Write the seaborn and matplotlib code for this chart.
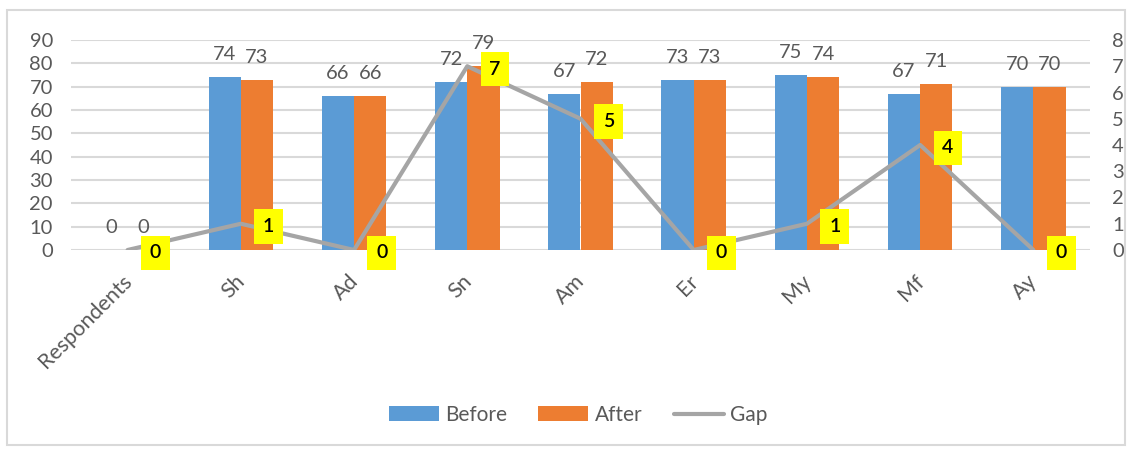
import numpy as np
import pandas as pd
import matplotlib
matplotlib.use("Agg")
import matplotlib.pyplot as plt
import matplotlib.transforms as mtransforms
from matplotlib.patches import Patch, Rectangle
from matplotlib.lines import Line2D
import seaborn as sns

# Scores per dimension before and after, plus the gap between them
categories = ["Respondents", "Sh", "Ad", "Sn", "Am", "Er", "My", "Mf", "Ay"]
before = [0, 74, 66, 72, 67, 73, 75, 67, 70]
after = [0, 73, 66, 79, 72, 73, 74, 71, 70]
gap = [0, 1, 0, 7, 5, 0, 1, 4, 0]
left_ticks = list(range(0, 91, 10))
right_ticks = list(range(0, 9, 1))

BLUE = "#5B9BD5"
ORANGE = "#ED7D31"
GRAY_LINE = "#A5A5A5"
GRID = "#D9D9D9"
TEXT = "#595959"

sns.set_theme(style="white")
plt.rcParams["font.family"] = ["Lato", "DejaVu Sans"]

bars = pd.DataFrame({
    "category": categories * 2,
    "series": ["Before"] * len(categories) + ["After"] * len(categories),
    "value": before + after,
})
line = pd.DataFrame({"pos": np.arange(len(categories)), "gap": gap})

fig = plt.figure(figsize=(11.31, 4.5), dpi=100)
ax = fig.add_axes([71 / 1131, 1 - 250 / 450, (1090 - 71) / 1131, 210 / 450])

sns.barplot(data=bars, x="category", y="value", hue="series",
            palette=[BLUE, ORANGE], width=0.57, ax=ax, legend=False,
            saturation=1, order=categories, hue_order=["Before", "After"],
            edgecolor="none", linewidth=0)
for cont in ax.containers:
    ax.bar_label(cont, fmt="%d", padding=10, fontsize=14.5, color=TEXT)

ax.set_ylim(0, 90)
ax.set_yticks(left_ticks)
ax.set_xlim(-0.5, len(categories) - 0.5)
ax.yaxis.grid(True, color=GRID, linewidth=1.5)
ax.set_axisbelow(True)
for s in ax.spines.values():
    s.set_visible(False)
ax.set_xlabel("")
ax.set_ylabel("")
ax.tick_params(axis="y", length=0, pad=13, labelsize=14.5, labelcolor=TEXT)
ax.tick_params(axis="x", length=0, pad=15, labelsize=15.5, labelcolor=TEXT)
shift = mtransforms.ScaledTranslation(-6 / 100, 0, fig.dpi_scale_trans)
for lbl in ax.get_xticklabels():
    lbl.set_rotation(45)
    lbl.set_ha("right")
    lbl.set_rotation_mode("anchor")
    lbl.set_transform(lbl.get_transform() + shift)

ax2 = ax.twinx()
sns.lineplot(data=line, x="pos", y="gap", color=GRAY_LINE, linewidth=3,
             ax=ax2, legend=False)
ax2.set_ylim(0, 8)
ax2.set_yticks(right_ticks)
ax2.set_xlim(-0.5, len(categories) - 0.5)
for s in ax2.spines.values():
    s.set_visible(False)
ax2.set_xlabel("")
ax2.set_ylabel("")
ax2.tick_params(axis="y", length=0, pad=16, labelsize=14.5, labelcolor=TEXT)

for i, g in enumerate(gap):
    ax2.annotate(f"{g}", (i, g), xytext=(20, -2), textcoords="offset points",
                 ha="center", va="center", fontsize=14, color="black",
                 fontweight="semibold",
                 bbox=dict(boxstyle="square,pad=0.45", fc="#FFFF00", ec="none"))

handles = [Patch(facecolor=BLUE, edgecolor="none"),
           Patch(facecolor=ORANGE, edgecolor="none"),
           Line2D([0], [0], color=GRAY_LINE, linewidth=3, solid_capstyle="round")]
fig.legend(handles, ["Before", "After", "Gap"], loc="center",
           bbox_to_anchor=(578 / 1131, 1 - 415 / 450), ncol=3, frameon=False,
           fontsize=15, labelcolor=TEXT, handlelength=2.4, handletextpad=0.3,
           columnspacing=1.5)

fig.patches.append(Rectangle((7 / 1131, 5 / 450), (1125 - 7) / 1131, (440 - 5) / 450,
                             transform=fig.transFigure, fill=False,
                             edgecolor=GRID, linewidth=1.5))

fig.savefig("out.png", dpi=100)
